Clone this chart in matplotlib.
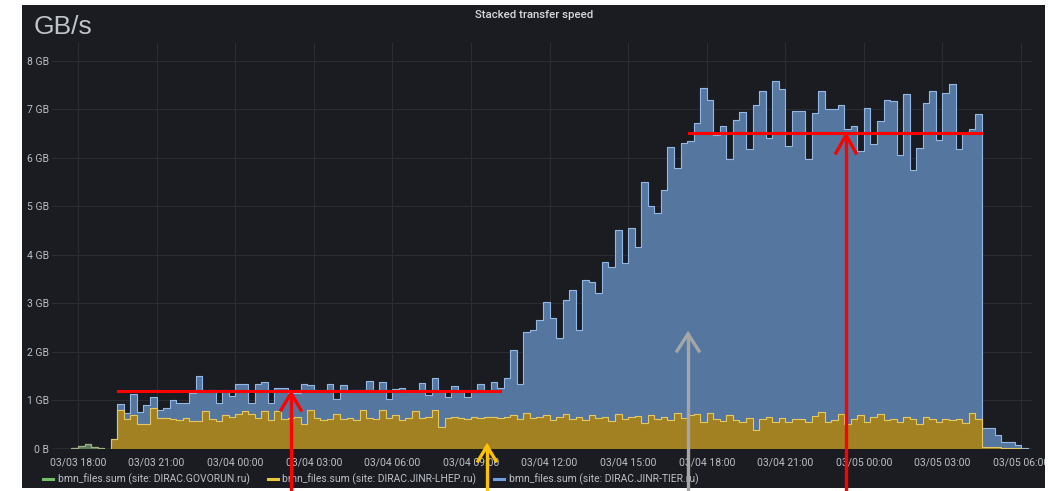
import matplotlib
matplotlib.use('Agg')
import matplotlib.pyplot as plt
import matplotlib.dates as mdates
from matplotlib.lines import Line2D
from matplotlib.patches import Rectangle
import numpy as np
import pandas as pd

W, H = 1054, 491

# # # DATA (GB/s, 15 min steps from 03/03 17:00) # # #
govorun = [0.01, 0.01, 0.01, 0.03, 0.06, 0.1, 0.04, 0.02, 0.01, 0.01] + [0.01] * 137 + [0.0, 0.0, 0.0]

lhep = [0, 0, 0, 0, 0, 0, 0, 0, 0, 0.2,
        0.8, 0.6, 0.7, 0.5, 0.5, 0.84, 0.63, 0.63, 0.6, 0.58, 0.63, 0.56, 0.56, 0.77, 0.6, 0.56,
        0.7, 0.66, 0.72, 0.77, 0.72, 0.63, 0.77, 0.58, 0.77, 0.6,
        0.62, 0.66, 0.5, 0.8, 0.62, 0.58, 0.6, 0.72, 0.6, 0.62, 0.58, 0.8, 0.62, 0.6, 0.8, 0.62,
        0.7, 0.58, 0.62, 0.78, 0.62, 0.66, 0.8, 0.45, 0.62, 0.66, 0.62, 0.6, 0.66, 0.62, 0.66, 0.64, 0.62,
        0.66, 0.7, 0.6, 0.74, 0.62, 0.66, 0.7, 0.58, 0.64, 0.72, 0.6, 0.66, 0.58, 0.7, 0.62,
        0.66, 0.56, 0.72, 0.6, 0.64, 0.68, 0.52, 0.7, 0.6, 0.66, 0.58, 0.74, 0.62, 0.7,
        0.72, 0.55, 0.74, 0.6, 0.56, 0.7, 0.58, 0.55, 0.62, 0.38, 0.6, 0.65, 0.55, 0.62, 0.55,
        0.6, 0.6, 0.55, 0.68, 0.75, 0.55, 0.58, 0.72, 0.5, 0.6, 0.7, 0.55, 0.66, 0.72, 0.58,
        0.6, 0.55, 0.66, 0.6, 0.5, 0.64, 0.6, 0.55, 0.6, 0.58, 0.6, 0.52, 0.74, 0.6,
        0.04, 0.03, 0.03, 0.02, 0.02, 0.02, 0.01, 0.0]

tier = [0, 0, 0, 0, 0, 0, 0, 0, 0, 0,
        0.11, 0.14, 0.42, 0.26, 0.39, 0.22, 0.16, 0.21, 0.41, 0.35, 0.3, 0.58, 0.93, 0.42, 0.61, 0.37,
        0.51, 0.43, 0.62, 0.57, 0.21, 0.71, 0.6, 0.35, 0.47, 0.64,
        0.52, 0.48, 0.84, 0.51, 0.59, 0.63, 0.74, 0.31, 0.71, 0.55, 0.63, 0.41, 0.78, 0.57, 0.58, 0.41,
        0.52, 0.66, 0.55, 0.39, 0.74, 0.44, 0.65, 0.72, 0.45, 0.62, 0.55, 0.47, 0.53, 0.72, 0.51, 0.74, 0.62,
        0.79, 1.33, 0.74, 1.67, 1.82, 1.99, 2.33, 2.11, 1.63, 2.34, 2.67, 1.78, 2.89, 2.74, 2.58,
        3.19, 3.19, 3.79, 3.22, 3.9, 3.48, 4.98, 4.29, 4.25, 4.67, 5.64, 5.04, 5.67, 5.63,
        6.0, 6.89, 6.45, 5.87, 6.09, 5.26, 6.2, 6.39, 5.55, 6.71, 6.77, 5.76, 7.02, 6.8, 5.68,
        6.36, 6.36, 5.41, 6.24, 6.62, 6.44, 6.41, 6.37, 6.09, 6.05, 5.43, 6.47, 5.61, 6.03, 6.61,
        6.56, 5.51, 6.64, 5.15, 5.7, 6.49, 6.77, 5.82, 6.73, 6.93, 5.57, 5.99, 5.84, 6.29,
        0.38, 0.39, 0.25, 0.12, 0.12, 0.06, 0.02, 0.01]

series_names = ['bmn_files.sum (site: DIRAC.GOVORUN.ru)',
                'bmn_files.sum (site: DIRAC.JINR-LHEP.ru)',
                'bmn_files.sum (site: DIRAC.JINR-TIER.ru)']
y_ticks = [0, 1, 2, 3, 4, 5, 6, 7, 8]
y_labels = ['0 B', '1 GB', '2 GB', '3 GB', '4 GB', '5 GB', '6 GB', '7 GB', '8 GB']

BG = '#1a1c22'
TXT = '#bcc0c6'

def ext(a):
    a = np.asarray(a, dtype=float)
    return np.append(a, a[-1])

def fp(x, y):
    # pixel (from top-left) -> figure fraction
    return x / W, 1 - y / H

g = ext(govorun)
y1 = g + ext(lhep)
y2 = y1 + ext(tier)
times = pd.date_range('2021-03-03 17:00', periods=len(g), freq='15min')

# # # FIGURE # # #
fig = plt.figure(figsize=(W / 100, H / 100), dpi=100, facecolor='white')
fig.add_artist(Rectangle(fp(22, 488), (1045 - 22) / W, (488 - 5) / H,
                         transform=fig.transFigure, facecolor=BG, edgecolor='none', zorder=-10))

ax = fig.add_axes([51.8 / W, (H - 449) / H, 980.2 / W, 406 / H])
ax.set_facecolor(BG)

ax.fill_between(times, y1, y2, step='post', color='#55769f', lw=0)
ax.fill_between(times, g, y1, step='post', color='#a28123', lw=0)
ax.fill_between(times, 0, g, step='post', color='#5d7a5a', lw=0)
ax.plot(times, y2, drawstyle='steps-post', color='#94b8e6', lw=0.8)
ax.plot(times, y1, drawstyle='steps-post', color='#e6c863', lw=0.8)
ax.plot(times, g, drawstyle='steps-post', color='#8fb08a', lw=0.6)

ax.set_xlim(times[0], pd.Timestamp('2021-03-05 06:25'))
ax.set_ylim(0, 8.37)
ax.set_yticks(y_ticks)
ax.set_yticklabels(y_labels)
ax.xaxis.set_major_locator(mdates.HourLocator(byhour=range(0, 24, 3)))
ax.xaxis.set_major_formatter(mdates.DateFormatter('%m/%d %H:%M'))
ax.tick_params(axis='both', length=0, colors=TXT, labelsize=7.5)
ax.tick_params(axis='x', pad=6)
ax.tick_params(axis='y', pad=2)
for lab in ax.get_xticklabels() + ax.get_yticklabels():
    lab.set_family('Roboto')
ax.grid(color='#2b2e35', lw=0.7)
ax.set_axisbelow(True)
for s in ax.spines.values():
    s.set_visible(False)

# title and unit
fig.text(*fp(534, 15), 'Stacked transfer speed', ha='center', va='center',
         fontsize=8.2, color='#d8d9da', family='Roboto', weight='medium')
fig.text(*fp(34, 27), 'GB/s', ha='left', va='center', fontsize=19,
         color='#bfc3ca', family='Liberation Sans')

# legend
leg = [(43, 58, '#73bf69'), (268, 282, '#e8c53a'), (494, 509, '#6f9fe0')]
for (mx, tx, c), name in zip(leg, series_names):
    fig.add_artist(Line2D([mx / W, (mx + 10) / W], [1 - 479 / H] * 2,
                          transform=fig.transFigure, color=c, lw=2.2))
    fig.text(*fp(tx, 479), name, ha='left', va='center', fontsize=7.5,
             color=TXT, family='Roboto')

# white margin over clipped label
fig.add_artist(Rectangle(fp(1045, 491), 9 / W, 1, transform=fig.transFigure,
                         facecolor='white', edgecolor='none', zorder=5))

# # # ANNOTATIONS # # #
def hline(x0, x1, y, c):
    fig.add_artist(Line2D([x0 / W, x1 / W], [1 - y / H] * 2, transform=fig.transFigure,
                          color=c, lw=2.2, zorder=10))

def arrow(x, y_tip, c, hw=10, hl=17):
    fig.add_artist(Line2D([x / W, x / W], [0, 1 - y_tip / H], transform=fig.transFigure,
                          color=c, lw=2.4, zorder=10))
    fig.add_artist(Line2D([(x - hw) / W, x / W, (x + hw) / W],
                          [1 - (y_tip + hl) / H, 1 - y_tip / H, 1 - (y_tip + hl) / H],
                          transform=fig.transFigure, color=c, lw=2.4, zorder=10,
                          solid_joinstyle='miter'))

hline(118, 500, 391, '#ff0000')
hline(689, 981, 133, '#ff0000')
arrow(291, 393, '#ff0000')
arrow(846, 135, '#ff0000', hl=18)
arrow(487, 446, '#ffc000', hw=9, hl=15)
arrow(688, 334, '#a6a6a6', hw=11, hl=17)

fig.savefig('out.png', dpi=100, facecolor='white')
